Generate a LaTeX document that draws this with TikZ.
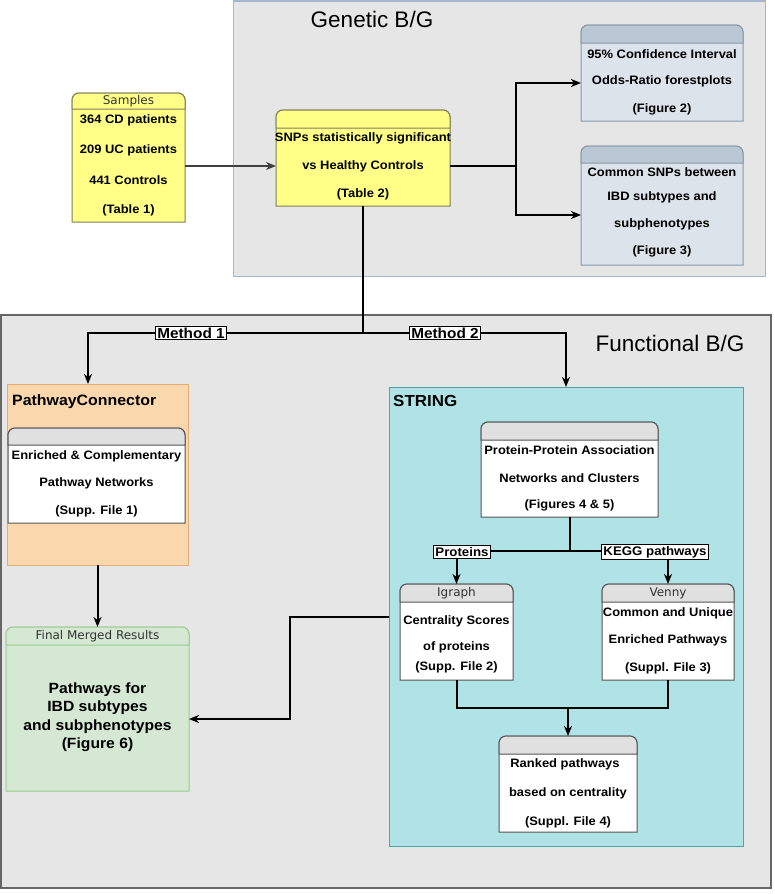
\documentclass[tikz,border=0pt]{standalone}
\usepackage{fontspec}
\setmainfont{Liberation Sans}[FakeStretch=1.06]
\newfontfamily\titlefont{Liberation Sans}
\newfontfamily\hdrfont{DejaVu Sans}
\usetikzlibrary{arrows.meta,calc}
\definecolor{bgc}{HTML}{E6E6E6}
\definecolor{genst}{HTML}{A3B6CB}
\definecolor{funst}{HTML}{666666}
\definecolor{yel}{HTML}{FFFF88}
\definecolor{yelst}{HTML}{7F7F55}
\definecolor{blbody}{HTML}{DCE3EA}
\definecolor{blhdr}{HTML}{BAC8D5}
\definecolor{blst}{HTML}{8899AA}
\definecolor{orf}{HTML}{FAD7AC}
\definecolor{orst}{HTML}{E2AE74}
\definecolor{grhdr}{HTML}{E0E0E0}
\definecolor{whst}{HTML}{555555}
\definecolor{grn}{HTML}{D5E8D4}
\definecolor{grnst}{HTML}{9CCB8F}
\definecolor{teal}{HTML}{B0E3E6}
\definecolor{tealst}{HTML}{4FA3A9}
\newcommand{\swimbox}[5]{%
  \filldraw[fill=#2,draw=#4,line width=1pt] (#1.south west) [rounded corners=7pt] -- (#1.north west) -- (#1.north east) [sharp corners] -- (#1.south east) -- cycle;
  \filldraw[fill=#3,draw=#4,line width=1pt] ([yshift=-#5pt]#1.north west) [rounded corners=7pt] -- (#1.north west) -- (#1.north east) [sharp corners] -- ([yshift=-#5pt]#1.north east) -- cycle;}
\begin{document}
\begin{tikzpicture}[x=1pt,y=-1pt,
  holder/.style={anchor=north west, inner sep=0pt, outer sep=0pt},
  txt/.style={font=\bfseries\fontsize{12.2}{14}\selectfont, inner sep=0pt},
  hdr/.style={font=\hdrfont\fontsize{12}{14}\selectfont, text=black!80, inner sep=0pt},
  line/.style={line width=2pt},
  arr/.style={line width=2pt,-{Stealth[length=10pt,width=8pt,inset=3pt]}},
  lbl/.style={draw, fill=white, line width=1pt, font=\bfseries\fontsize{12.5}{14}\selectfont, inner sep=2pt},
  mlbl/.style={draw, fill=white, line width=1pt, font=\bfseries\fontsize{14.5}{16}\selectfont, inner xsep=1.5pt, inner ysep=1pt}
]
\useasboundingbox (0,0) rectangle (774,894);
\fill[white] (0,0) rectangle (774,894);

% regions
\node[holder, draw=genst, fill=bgc, line width=1pt, minimum width=532pt, minimum height=275pt] (gen) at (233,1) {};
\node[holder, draw=funst, fill=bgc, line width=1.2pt, minimum width=770pt, minimum height=573pt] (fun) at (1,315) {};
\node[font=\titlefont\fontsize{22.5}{26}\selectfont, inner sep=0pt] (gent) at (372,19) {Genetic B/G};
\node[font=\titlefont\fontsize{22.5}{26}\selectfont, inner sep=0pt] (funt) at (670,343) {Functional B/G};

% box holders
\node[holder, minimum width=113pt, minimum height=129pt] (samp) at (72,93) {};
\node[holder, minimum width=174pt, minimum height=96pt] (snp) at (276,110) {};
\node[holder, minimum width=162pt, minimum height=96pt] (ci) at (581,25) {};
\node[holder, minimum width=162pt, minimum height=119pt] (cs) at (581,146) {};
\node[holder, draw=orst, fill=orf, line width=1pt, minimum width=181pt, minimum height=181pt] (pc) at (7,384) {};
\node[holder, minimum width=177pt, minimum height=95pt] (pcin) at (8,428) {};
\node[holder, minimum width=183pt, minimum height=164pt] (fm) at (6,627) {};
\node[holder, draw=tealst, fill=teal, line width=1pt, minimum width=354pt, minimum height=459pt] (string) at (389,387) {};
\node[holder, minimum width=177pt, minimum height=95pt] (ppa) at (481,422) {};
\node[holder, minimum width=113pt, minimum height=96pt] (igraph) at (400,584) {};
\node[holder, minimum width=132pt, minimum height=96pt] (venny) at (602,584) {};
\node[holder, minimum width=138pt, minimum height=96pt] (ranked) at (499,736) {};

\swimbox{samp}{yel}{yel}{yelst}{16}
\swimbox{snp}{yel}{yel}{yelst}{18}
\swimbox{ci}{blbody}{blhdr}{blst}{18}
\swimbox{cs}{blbody}{blhdr}{blst}{17}
\swimbox{pcin}{white}{grhdr}{whst}{17}
\swimbox{fm}{grn}{grn}{grnst}{18}
\swimbox{ppa}{white}{grhdr}{whst}{18}
\swimbox{igraph}{white}{grhdr}{whst}{18}
\swimbox{venny}{white}{grhdr}{whst}{18}
\swimbox{ranked}{white}{grhdr}{whst}{18}

% texts
\node[hdr] (sampH) at (128.5,101) {Samples};
\node[txt] (s1) at (128.5,120) {364 CD patients};
\node[txt] (s2) at (128.5,150) {209 UC patients};
\node[txt] (s3) at (128.5,180) {441 Controls};
\node[txt] (s4) at (128.5,210) {(Table 1)};

\node[txt] (n1) at (363,138) {SNPs statistically significant};
\node[txt] (n2) at (363,166) {vs Healthy Controls};
\node[txt] (n3) at (363,194) {(Table 2)};

\node[txt] (c1) at (662,54) {95\% Confidence Interval};
\node[txt] (c2) at (662,81) {Odds-Ratio forestplots};
\node[txt] (c3) at (662,109) {(Figure 2)};

\node[txt] (d1) at (662,172) {Common SNPs between};
\node[txt] (d2) at (662,197) {IBD subtypes and};
\node[txt] (d3) at (662,224) {subphenotypes};
\node[txt] (d4) at (662,251) {(Figure 3)};

\node[font=\bfseries\fontsize{15}{17}\selectfont, inner sep=0pt, anchor=west] (pct) at (12,402) {PathwayConnector};
\node[txt] (e1) at (96.5,456) {Enriched \& Complementary};
\node[txt] (e2) at (96.5,483) {Pathway Networks};
\node[txt] (e3) at (96.5,511) {(Supp. File 1)};

\node[hdr] (fmH) at (97.5,636) {Final Merged Results};
\node[font=\bfseries\fontsize{14.8}{16}\selectfont, inner sep=0pt, align=center] (fmt) at (97.5,717) {Pathways for\\[2.5pt]IBD subtypes\\[2.5pt]and subphenotypes\\[2.5pt](Figure 6)};

\node[font=\bfseries\fontsize{16}{18}\selectfont, inner sep=0pt, anchor=west] (strt) at (393,401) {STRING};
\node[txt] (p1) at (569.5,450) {Protein-Protein Association};
\node[txt] (p2) at (569.5,478) {Networks and Clusters};
\node[txt] (p3) at (569.5,505) {(Figures 4 \& 5)};

\node[hdr] (igH) at (456.5,593) {Igraph};
\node[txt] (g1) at (456.5,621) {Centrality Scores};
\node[txt] (g2) at (456.5,647) {of proteins};
\node[txt] (g3) at (456.5,667) {(Supp. File 2)};

\node[hdr] (veH) at (668,593) {Venny};
\node[txt] (v1) at (668,613) {Common and Unique};
\node[txt] (v2) at (668,640) {Enriched Pathways};
\node[txt] (v3) at (668,668) {(Suppl. File 3)};

\node[txt] (r1) at (565,764) {Ranked pathways};
\node[txt] (r2) at (568,793) {based on centrality};
\node[txt] (r3) at (568,822) {(Suppl. File 4)};

% connectors
\coordinate (y166) at (0,166);
\coordinate (br) at (516,166);
\coordinate (b1) at (516,83);
\coordinate (b2) at (516,215);
\draw[arr, draw=black!75, line width=1.5pt] (samp.east |- y166) -- (snp.west |- y166);
\draw[line] (snp.east |- y166) -- (br);
\draw[arr] (br) -- (b1) -- (ci.west |- b1);
\draw[arr] (br) -- (b2) -- (cs.west |- b2);

\coordinate (j) at (363,333);
\coordinate (jl) at (88,333);
\draw[line] (snp.south) -- (j);
\draw[arr] (j) -- (jl) -- (jl |- pc.north);
\draw[arr] (j) -- (string.north |- j) -- (string.north);
\node[mlbl] (m1) at (191,333) {Method 1};
\node[mlbl] (m2) at (445,333) {Method 2};

\draw[arr] (pc.south) -- (fm.north);

\coordinate (s1c) at (290,617);
\coordinate (s2c) at (290,719);
\draw[arr] (string.west |- s1c) -- (s1c) -- (s2c) -- (fm.east |- s2c);

\coordinate (py) at (0,551);
\draw[line] (ppa.south) -- (ppa.south |- py);
\draw[line] (igraph.north |- py) -- (venny.north |- py);
\draw[arr] (igraph.north |- py) -- (igraph.north);
\draw[arr] (venny.north |- py) -- (venny.north);
\node[lbl] (prot) at (462,552) {Proteins};
\node[lbl] (kegg) at (655,552) {KEGG pathways};

\coordinate (my) at (0,708);
\draw[line] (igraph.south) -- (igraph.south |- my) -- (venny.south |- my) -- (venny.south);
\draw[arr] (ranked.north |- my) -- (ranked.north);
\end{tikzpicture}
\end{document}
